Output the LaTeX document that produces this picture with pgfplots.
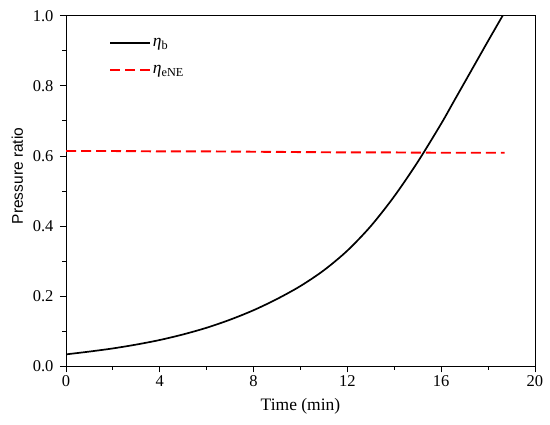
\documentclass[border=0pt]{standalone}
\usepackage{fontspec}
\setmainfont{Liberation Serif}
\newfontfamily\arial{Liberation Sans}
\usepackage{pgfplots}
\pgfplotsset{compat=1.18}
\begin{document}
\begin{tikzpicture}
\useasboundingbox (0,0) rectangle (550pt,425pt);
\begin{axis}[
  at={(66pt,58.7pt)}, anchor=south west,
  scale only axis, width=469pt, height=350.6pt,
  xmin=0, xmax=20, ymin=0, ymax=1,
  xtick={0,4,8,12,16,20}, ytick={0,0.2,0.4,0.6,0.8,1.0},
  minor x tick num=1, minor y tick num=1,
  tick align=outside, xtick pos=bottom, ytick pos=left,
  major tick length=6pt, minor tick length=3.5pt,
  axis line style={line width=0.8pt},
  every tick/.style={black, line width=0.8pt},
  tick label style={font=\fontsize{16.5}{19}\selectfont},
  /pgf/number format/assume math mode=true,
  yticklabel style={xshift=-3pt, /pgf/number format/.cd, fixed, fixed zerofill, precision=1},
  xlabel={Time (min)},
  ylabel={\arial Pressure ratio},
  xlabel style={font=\fontsize{17.5}{20}\selectfont, at={(axis description cs:0.5,-0.113)}, anchor=center},
  ylabel style={font=\fontsize{15.5}{18}\selectfont, at={(axis description cs:-0.104,0.543)}, anchor=center},
  legend style={at={(axis description cs:0.085,0.947)}, anchor=north west, draw=none, fill=none,
     font=\fontsize{17.5}{20}\selectfont, row sep=13pt},
  legend cell align=left,
  legend image code/.code={\draw[#1] (0pt,0pt) -- (40pt,0pt);},
]
\addplot[black, line width=1.7pt, smooth] coordinates {
(0,0.034) (1,0.042) (2,0.051) (3,0.062) (4,0.075) (5,0.091) (6,0.110) (7,0.133)
(8,0.160) (9,0.192) (10,0.229) (11,0.274) (12,0.330) (13,0.400) (14,0.485)
(15,0.583) (16,0.692) (16.5,0.751) (17,0.810) (17.5,0.869) (18,0.928) (18.62,1.0)
};
\addplot[red, line width=1.9pt, dash pattern=on 10pt off 5pt] coordinates {
(0,0.614) (2,0.614) (4,0.613) (6,0.613) (8,0.612) (10,0.611) (12,0.610) (14,0.610) (16,0.609) (18.7,0.609)
};
\legend{{\itshape η}\textsubscript{b}, {\itshape η}\textsubscript{eNE}}
\end{axis}
\end{tikzpicture}
\end{document}
